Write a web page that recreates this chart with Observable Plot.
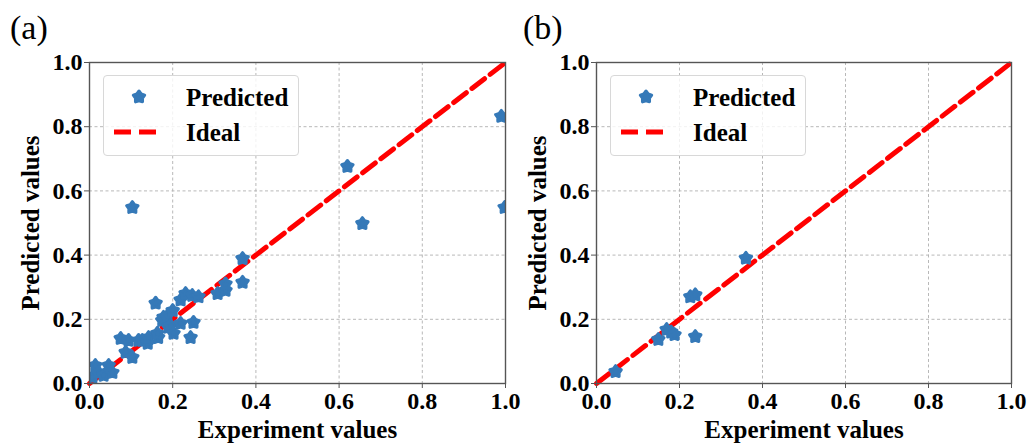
<!DOCTYPE html>
<html>
<head>
<meta charset="utf-8">
<script src="https://cdn.jsdelivr.net/npm/d3@7"></script>
<script src="https://cdn.jsdelivr.net/npm/@observablehq/plot@0.6"></script>
<style>
  html, body { margin: 0; padding: 0; background: #fff; }
  #wrap { position: relative; width: 1027px; height: 443px; overflow: hidden; font-family: "Liberation Serif", "Times New Roman", serif; }
  .panel { position: absolute; top: 0; }
  .panel svg { overflow: visible; }
  .tag { position: absolute; top: 9px; font-size: 34px; font-weight: normal; }
  .legend { position: absolute; top: 75px; width: 196px; height: 81px; border: 1px solid #d8d8d8; border-radius: 4px; background: rgba(255,255,255,0.8); box-sizing: border-box; }
  .legend svg { position: absolute; left: 0; top: 0; }
  .legend .lab { position: absolute; left: 82px; font-size: 25px; font-weight: bold; line-height: 1; }
</style>
</head>
<body>
<div id="wrap"></div>
<script>
// Panel (a): experiment vs predicted
const aExp  = [0.007,0.014,0.022,0.034,0.046,0.055,0.075,0.087,0.094,0.103,0.118,0.127,0.140,0.142,0.165,0.163,0.159,0.175,0.178,0.187,0.190,0.195,0.200,0.202,0.219,0.219,0.231,0.243,0.247,0.250,0.262,0.308,0.327,0.327,0.368,0.368,0.103,0.620,0.656,0.990,0.998];
const aPred = [0.020,0.056,0.034,0.025,0.056,0.034,0.140,0.097,0.134,0.081,0.134,0.134,0.125,0.143,0.143,0.156,0.250,0.196,0.206,0.210,0.175,0.180,0.227,0.156,0.260,0.187,0.280,0.143,0.274,0.190,0.270,0.280,0.290,0.310,0.389,0.315,0.548,0.676,0.498,0.832,0.548];
// Panel (b)
const bExp  = [0.046,0.149,0.169,0.180,0.188,0.226,0.238,0.238,0.360];
const bPred = [0.037,0.137,0.168,0.160,0.152,0.270,0.276,0.146,0.390];
// Ideal line
const idealX = [0, 1];
const idealY = [0, 1];
const ticks = [0, 0.2, 0.4, 0.6, 0.8, 1.0];
const xTitle = "Experiment values";
const yTitle = "Predicted values";
const legendLabels = ["Predicted", "Ideal"];
const panelTags = ["(a)", "(b)"];

const blue = "#3579b8";
const red = "#ff0000";

// rounded pentagon-star ("flower") marker
const flower = {
  draw(context, size) {
    const R = Math.sqrt(size / Math.PI);
    const r = R * 0.62;
    for (let i = 0; i < 10; i++) {
      const rad = i % 2 === 0 ? R : r;
      const a = -Math.PI / 2 + i * Math.PI / 5;
      const x = rad * Math.cos(a), y = rad * Math.sin(a);
      if (i === 0) context.moveTo(x, y); else context.lineTo(x, y);
    }
    context.closePath();
  }
};
const markR = 6;

function makePanel(xs, ys, width, marginRight) {
  const pts = xs.map((x, i) => ({x, y: ys[i]}));
  const ideal = idealX.map((x, i) => ({x, y: idealY[i]}));
  return Plot.plot({
    width, height: 443,
    marginLeft: 89, marginRight, marginTop: 62, marginBottom: 60,
    x: {domain: [0, 1]},
    y: {domain: [0, 1]},
    style: {fontFamily: "'Liberation Serif', 'Times New Roman', serif", fontWeight: "bold", background: "transparent", overflow: "visible"},
    marks: [
      Plot.gridX(ticks, {stroke: "#b0b0b0", strokeOpacity: 1, strokeDasharray: "3,2.5", strokeWidth: 0.9}),
      Plot.gridY(ticks, {stroke: "#b0b0b0", strokeOpacity: 1, strokeDasharray: "3,2.5", strokeWidth: 0.9}),
      Plot.line(ideal, {x: "x", y: "y", stroke: red, strokeWidth: 5, strokeDasharray: "16,7"}),
      Plot.dot(pts, {x: "x", y: "y", symbol: flower, r: markR, fill: blue, stroke: blue, strokeWidth: 3, strokeLinejoin: "round", clip: true}),
      Plot.frame({stroke: "#555", strokeWidth: 1.4}),
      Plot.axisX({ticks, tickFormat: d3.format(".1f"), tickSize: 5, tickPadding: 3, fontSize: 24, fontWeight: "bold", label: null, stroke: "#555"}),
      Plot.axisY({ticks, tickFormat: d3.format(".1f"), tickSize: 5, tickPadding: 2, fontSize: 24, fontWeight: "bold", label: null, stroke: "#555"}),
      Plot.text([xTitle], {text: d => d, frameAnchor: "bottom", textAnchor: "middle", dy: 46, fontSize: 25, fontWeight: "bold", lineAnchor: "middle"}),
      Plot.text([yTitle], {text: d => d, frameAnchor: "left", textAnchor: "middle", dx: -59, rotate: -90, fontSize: 25, fontWeight: "bold"})
    ]
  });
}

function makeLegend(left) {
  const div = document.createElement("div");
  div.className = "legend";
  div.style.left = left + "px";
  const svg = d3.create("svg").attr("width", 196).attr("height", 81);
  const path = d3.path();
  flower.draw(path, Math.PI * markR * markR);
  svg.append("path").attr("d", path.toString()).attr("transform", "translate(35,21)")
    .attr("fill", blue).attr("stroke", blue).attr("stroke-width", 3).attr("stroke-linejoin", "round");
  svg.append("line").attr("x1", 10).attr("x2", 57).attr("y1", 56).attr("y2", 56)
    .attr("stroke", red).attr("stroke-width", 5).attr("stroke-dasharray", "17,8");
  div.appendChild(svg.node());
  legendLabels.forEach((t, i) => {
    const s = document.createElement("div");
    s.className = "lab";
    s.textContent = t;
    s.style.top = (i === 0 ? 9 : 44) + "px";
    div.appendChild(s);
  });
  return div;
}

const wrap = document.getElementById("wrap");
const panels = [
  {left: 0, width: 513, mr: 8, xs: aExp, ys: aPred, legend: 103, tag: 10},
  {left: 507, width: 520, mr: 16, xs: bExp, ys: bPred, legend: 610, tag: 523}
];
panels.forEach((p, i) => {
  const d = document.createElement("div");
  d.className = "panel";
  d.style.left = p.left + "px";
  d.appendChild(makePanel(p.xs, p.ys, p.width, p.mr));
  wrap.appendChild(d);
  wrap.appendChild(makeLegend(p.legend));
  const t = document.createElement("div");
  t.className = "tag";
  t.style.left = p.tag + "px";
  t.textContent = panelTags[i];
  wrap.appendChild(t);
});
</script>
</body>
</html>
